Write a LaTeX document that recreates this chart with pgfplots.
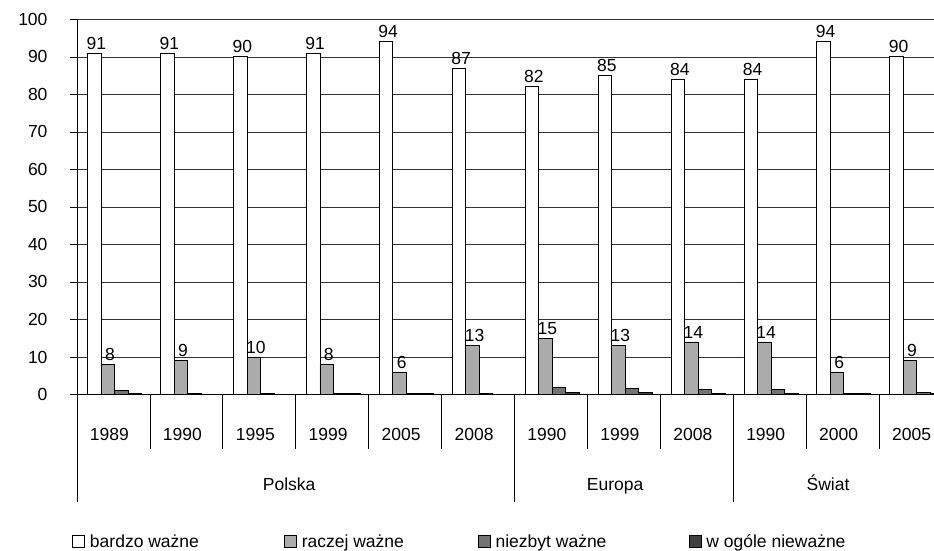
\documentclass[border=0pt]{standalone}
\usepackage{fontspec}
\setmainfont{Liberation Sans}
\usepackage{pgfplots}
\pgfplotsset{compat=1.18}
\usepackage{pgfplotstable}

\pgfplotstableread{
x a b c d
0 91 8 1.0 0.2
1 91 9 0.3 0.1
2 90 10 0.2 0.1
3 91 8 0.4 0.2
4 94 6 0.4 0.2
5 87 13 0.3 0.1
6 82 15 1.8 0.5
7 85 13 1.6 0.5
8 84 14 1.3 0.4
9 84 14 1.4 0.4
10 94 6 0.4 0.3
11 90 9 0.6 0.4
}\data

\newcommand{\lf}{\fontsize{17.5}{21}\selectfont}
\pgfplotsset{sqleg/.style={legend image code/.code={\draw[##1] (0pt,-6pt) rectangle (12pt,6pt);}}}

\begin{document}
\begin{tikzpicture}
\useasboundingbox (-77pt,-156.5pt) rectangle (857pt,394.5pt);
\begin{axis}[
  at={(0,0)}, anchor=south west,
  scale only axis, width=875pt, height=375.2pt,
  xmin=0, xmax=12, ymin=0, ymax=100,
  axis x line*=bottom, axis y line*=left,
  axis line style={black, line width=0.8pt},
  ytick={0,10,...,100},
  ymajorgrids, grid style={black!80, line width=0.55pt},
  tick align=outside, major tick length=7pt,
  ytick style={black, line width=0.6pt},
  xtick={0.5,1.5,...,11.5},
  xticklabels={1989,1990,1995,1999,2005,2008,1990,1999,2008,1990,2000,2005},
  xtick style={draw=none},
  xticklabel style={anchor=base, yshift=-39pt, xshift=-4pt},
  yticklabel style={xshift=-19pt},
  ticklabel style={font=\lf},
  /pgf/number format/assume math mode=true,
  ybar, bar width=13.5pt,
  clip=false,
  legend columns=4,
  legend cell align=left,
  legend style={draw=none, fill=none, font=\lf, at={(0,0)}, anchor=west, xshift=-8pt, yshift=-147pt},
]
\addplot[fill=white, draw=black, line width=0.8pt, bar shift=-19pt,
  nodes near coords, nodes near coords style={font=\lf, black, xshift=2pt}, sqleg]
  table[x expr=\thisrow{x}+0.5, y=a]{\data};
\addlegendentry{\makebox[195pt][l]{\hspace{3pt}bardzo ważne}}
\addplot[fill=black!33, draw=black, line width=0.8pt, bar shift=-5.5pt,
  nodes near coords, nodes near coords style={font=\lf, black, xshift=2pt}, sqleg]
  table[x expr=\thisrow{x}+0.5, y=b]{\data};
\addlegendentry{\makebox[177pt][l]{\hspace{3pt}raczej ważne}}
\addplot[fill=black!55, draw=black, line width=0.8pt, bar shift=8pt, sqleg]
  table[x expr=\thisrow{x}+0.5, y=c]{\data};
\addlegendentry{\makebox[194pt][l]{\hspace{3pt}niezbyt ważne}}
\addplot[fill=black!75, draw=black, line width=0.8pt, bar shift=21.5pt, sqleg]
  table[x expr=\thisrow{x}+0.5, y=d]{\data};
\addlegendentry{\hspace{3pt}w ogóle nieważne}

\draw[black, line width=0.8pt] (axis cs:0,0) -- ++(0pt,-107.5pt);
\draw[black, line width=0.8pt] (axis cs:6,0) -- ++(0pt,-107.5pt);
\draw[black, line width=0.8pt] (axis cs:9,0) -- ++(0pt,-107.5pt);
\draw[black, line width=0.8pt] (axis cs:1,0) -- ++(0pt,-54.5pt);
\draw[black, line width=0.8pt] (axis cs:2,0) -- ++(0pt,-54.5pt);
\draw[black, line width=0.8pt] (axis cs:3,0) -- ++(0pt,-54.5pt);
\draw[black, line width=0.8pt] (axis cs:4,0) -- ++(0pt,-54.5pt);
\draw[black, line width=0.8pt] (axis cs:5,0) -- ++(0pt,-54.5pt);
\draw[black, line width=0.8pt] (axis cs:7,0) -- ++(0pt,-54.5pt);
\draw[black, line width=0.8pt] (axis cs:8,0) -- ++(0pt,-54.5pt);
\draw[black, line width=0.8pt] (axis cs:10,0) -- ++(0pt,-54.5pt);
\draw[black, line width=0.8pt] (axis cs:11,0) -- ++(0pt,-54.5pt);

\node[anchor=base, font=\lf, yshift=-96pt] at (axis cs:2.91,0) {Polska};
\node[anchor=base, font=\lf, yshift=-96pt] at (axis cs:7.38,0) {Europa};
\node[anchor=base, font=\lf, yshift=-96pt] at (axis cs:10.3,0) {Świat};
\end{axis}
\end{tikzpicture}
\end{document}
